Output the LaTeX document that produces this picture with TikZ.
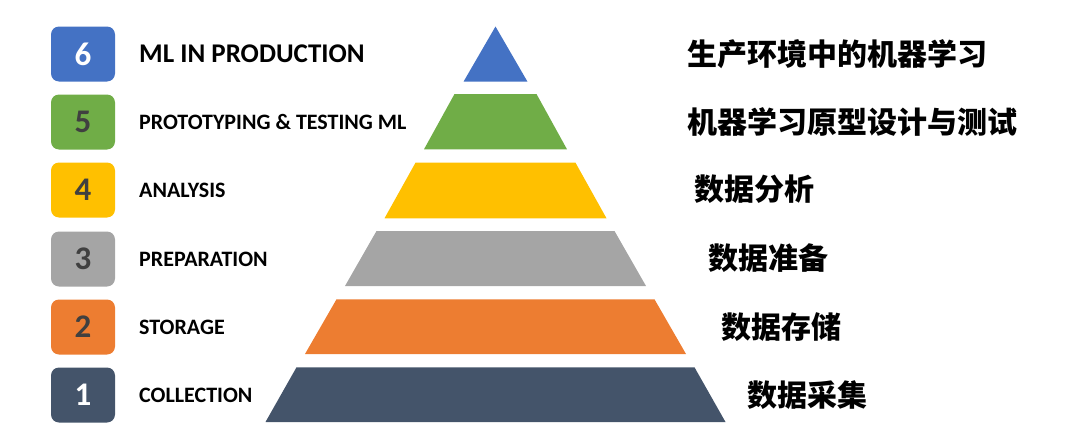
\documentclass[tikz,border=0pt]{standalone}
\usepackage{fontspec}
\setmainfont{Carlito}
\newfontfamily\cjk{Noto Sans CJK SC}
\definecolor{lvlblue}{HTML}{4472C4}
\definecolor{lvlgreen}{HTML}{70AD47}
\definecolor{lvlyellow}{HTML}{FFC000}
\definecolor{lvlgrey}{HTML}{A5A5A5}
\definecolor{lvlorange}{HTML}{ED7D31}
\definecolor{lvlnavy}{HTML}{44546A}
\definecolor{numdark}{HTML}{404040}
\tikzset{
  numbox/.style={rounded corners=8pt, minimum width=64pt, minimum height=55pt, inner sep=0pt,
    font=\fontsize{33}{33}\selectfont\bfseries},
  enlabel/.style={anchor=west, inner sep=0pt, font=\fontsize{22}{22}\selectfont\bfseries},
  cnlabel/.style={anchor=west, inner sep=0pt, font=\cjk\fontsize{30}{30}\selectfont\bfseries}
}
\begin{document}
\begin{tikzpicture}[x=1pt, y=-1pt]
  \useasboundingbox (0,0) rectangle (1077,423);

  % Draw number boxes
  \node[numbox, fill=lvlblue, text=white] (box6) at (83,54) {6};
  \node[numbox, fill=lvlgreen, text=numdark] (box5) at (83,122) {5};
  \node[numbox, fill=lvlyellow, text=numdark] (box4) at (83,190) {4};
  \node[numbox, fill=lvlgrey, text=numdark] (box3) at (83,259) {3};
  \node[numbox, fill=lvlorange, text=numdark] (box2) at (83,327) {2};
  \node[numbox, fill=lvlnavy, text=white] (box1) at (83,395) {1};

  % Draw English labels
  \node[enlabel, font=\fontsize{27}{27}\selectfont\bfseries] (en6) at (139,54) {ML IN PRODUCTION};
  \node[enlabel] (en5) at (139,122) {PROTOTYPING \& TESTING ML};
  \node[enlabel] (en4) at (139,190) {ANALYSIS};
  \node[enlabel] (en3) at (139,259) {PREPARATION};
  \node[enlabel] (en2) at (139,327) {STORAGE};
  \node[enlabel] (en1) at (139,395) {COLLECTION};

  % Draw pyramid layers
  \fill[lvlblue] (495.5,26.5) -- (527.5,81.7) -- (463.5,81.7) -- cycle;
  \fill[lvlgreen] (454.5,94) -- (536.5,94) -- (567,149.3) -- (424,149.3) -- cycle;
  \fill[lvlyellow] (415.5,162.7) -- (575.5,162.7) -- (606.5,218.3) -- (384.5,218.3) -- cycle;
  \fill[lvlgrey] (376.5,231) -- (614.5,231) -- (646,286) -- (345,286) -- cycle;
  \fill[lvlorange] (336.5,299.3) -- (654.5,299.3) -- (686,354) -- (305,354) -- cycle;
  \fill[lvlnavy] (296.5,367.3) -- (694.5,367.3) -- (725.5,422) -- (265.5,422) -- cycle;

  % Draw Chinese labels
  \node[cnlabel] (cn6) at (687,54) {生产环境中的机器学习};
  \node[cnlabel] (cn5) at (687,122) {机器学习原型设计与测试};
  \node[cnlabel] (cn4) at (694,189) {数据分析};
  \node[cnlabel] (cn3) at (708,258) {数据准备};
  \node[cnlabel] (cn2) at (721,327) {数据存储};
  \node[cnlabel] (cn1) at (747,395) {数据采集};
\end{tikzpicture}
\end{document}
